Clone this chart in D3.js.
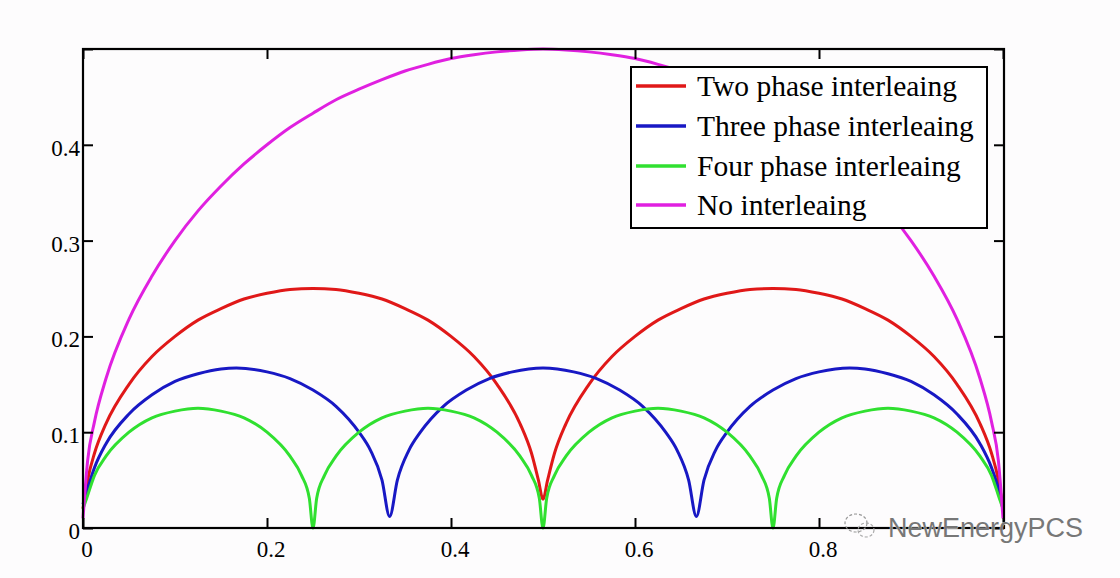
<!DOCTYPE html>
<html><head><meta charset="utf-8">
<script src="https://cdn.jsdelivr.net/npm/d3@7/dist/d3.min.js"></script>
<style>
html,body{margin:0;padding:0;background:#fdfcfd;}
svg{display:block;}
</style></head>
<body>
<svg id="chart" width="1120" height="578"></svg>
<script>
// ---- data ----
const seriesNames = ["Two phase interleaing", "Three phase interleaing", "Four phase interleaing", "No interleaing"];
const seriesColors = ["#e01818", "#1818c4", "#30e030", "#e020e0"];

const twoX = [0,0.005,0.0125,0.025,0.05,0.075,0.1,0.125,0.15,0.175,0.2,0.225,0.25,0.275,0.3,0.325,0.35,0.375,0.4,0.425,0.45,0.475,0.4875,0.495,0.5,
  0.505,0.5125,0.525,0.55,0.575,0.6,0.625,0.65,0.675,0.7,0.725,0.75,0.775,0.8,0.825,0.85,0.875,0.9,0.925,0.95,0.975,0.9875,0.995,1];
const twoY = [0.02,0.050,0.078,0.109,0.150,0.179,0.200,0.217,0.229,0.239,0.245,0.249,0.250,0.249,0.245,0.239,0.229,0.217,0.200,0.179,0.150,0.109,0.078,0.050,0.030,
  0.050,0.078,0.109,0.150,0.179,0.200,0.217,0.229,0.239,0.245,0.249,0.250,0.249,0.245,0.239,0.229,0.217,0.200,0.179,0.150,0.109,0.078,0.050,0.02];

const threeX = [0,0.005,0.0125,0.025,0.05,0.075,0.1,0.125,0.15,0.1667,0.2,0.225,0.25,0.275,0.3,0.3125,0.325,0.3333,
  0.3417,0.3542,0.3667,0.3917,0.4167,0.4417,0.4667,0.5,0.5333,0.5583,0.5833,0.6083,0.6333,0.6458,0.6583,0.6667,
  0.675,0.6875,0.7,0.725,0.75,0.775,0.8,0.8333,0.85,0.875,0.9,0.925,0.95,0.975,0.9875,0.995,1];
const threeY = [0.025,0.041,0.063,0.088,0.119,0.139,0.153,0.161,0.166,0.167,0.163,0.156,0.144,0.127,0.100,0.081,0.050,0.012,
  0.050,0.081,0.100,0.127,0.144,0.156,0.163,0.167,0.163,0.156,0.144,0.127,0.100,0.081,0.050,0.012,
  0.050,0.081,0.100,0.127,0.144,0.156,0.163,0.167,0.166,0.161,0.153,0.139,0.119,0.088,0.063,0.041,0.02];

const fourX = [0,0.004,0.0125,0.025,0.05,0.075,0.1,0.125,0.15,0.175,0.2,0.225,0.2375,0.246,0.25,
  0.254,0.2625,0.275,0.3,0.325,0.35,0.375,0.4,0.425,0.45,0.475,0.4875,0.496,0.5,
  0.504,0.5125,0.525,0.55,0.575,0.6,0.625,0.65,0.675,0.7,0.725,0.7375,0.746,0.75,
  0.754,0.7625,0.775,0.8,0.825,0.85,0.875,0.9,0.925,0.95,0.975,0.9875,0.996,1];
const fourY = [0.02,0.031,0.055,0.075,0.100,0.115,0.122,0.125,0.122,0.115,0.100,0.075,0.055,0.031,0.0,
  0.031,0.055,0.075,0.100,0.115,0.122,0.125,0.122,0.115,0.100,0.075,0.055,0.031,0.0,
  0.031,0.055,0.075,0.100,0.115,0.122,0.125,0.122,0.115,0.100,0.075,0.055,0.031,0.0,
  0.031,0.055,0.075,0.100,0.115,0.122,0.125,0.122,0.115,0.100,0.075,0.055,0.031,0.02];

const noX = [0,0.005,0.0125,0.025,0.05,0.075,0.1,0.125,0.15,0.175,0.2,0.225,0.25,0.275,0.3,0.325,0.35,0.375,0.4,0.425,0.45,0.475,0.5,
  0.525,0.55,0.575,0.6,0.625,0.65,0.675,0.7,0.725,0.75,0.775,0.8,0.825,0.85,0.875,0.9,0.925,0.95,0.975,0.9875,0.995,1];
const noY = [0.01,0.070,0.111,0.156,0.218,0.263,0.300,0.331,0.357,0.380,0.400,0.418,0.433,0.447,0.458,0.468,0.477,0.484,0.490,0.494,0.497,0.499,0.500,
  0.499,0.497,0.494,0.490,0.484,0.477,0.468,0.458,0.447,0.433,0.418,0.400,0.380,0.357,0.331,0.300,0.263,0.218,0.156,0.111,0.070,0.01];

const xTicks = [0, 0.2, 0.4, 0.6, 0.8, 1];
const xTickLabels = ["0", "0.2", "0.4", "0.6", "0.8", ""];
const yTicks = [0, 0.1, 0.2, 0.3, 0.4, 0.5];
const yTickLabels = ["0", "0.1", "0.2", "0.3", "0.4", ""];

// ---- layout ----
const svg = d3.select("#chart");
const L = 83, R = 1003, T = 49, B = 528;
const x = d3.scaleLinear().domain([0, 1]).range([L, R]);
const y = d3.scaleLinear().domain([0, 0.5]).range([B, T]);

svg.append("rect").attr("width", 1120).attr("height", 578).attr("fill", "#fdfcfd");

const seriesData = [
  [twoX, twoY], [threeX, threeY], [fourX, fourY], [noX, noY]
].map(([xs, ys]) => xs.map((v, i) => [v, ys[i]]));

const line = d3.line().x(d => x(d[0])).y(d => y(d[1])).curve(d3.curveMonotoneX);

svg.append("g").selectAll("path").data(seriesData).join("path")
  .attr("d", line)
  .attr("fill", "none")
  .attr("stroke", (d, i) => seriesColors[i])
  .attr("stroke-width", 3)
  .attr("stroke-linejoin", "round");

// ---- frame and axes (ticks inside) ----
const font = "'Liberation Serif', 'Times New Roman', serif";
const axB = svg.append("g").attr("transform", `translate(0,${B})`)
  .call(d3.axisTop(x).tickValues(xTicks).tickFormat("").tickSizeInner(10).tickSizeOuter(0));
const axT = svg.append("g").attr("transform", `translate(0,${T})`)
  .call(d3.axisBottom(x).tickValues(xTicks).tickFormat("").tickSizeInner(10).tickSizeOuter(0));
const axL = svg.append("g").attr("transform", `translate(${L},0)`)
  .call(d3.axisRight(y).tickValues(yTicks).tickFormat("").tickSizeInner(10).tickSizeOuter(0));
const axR = svg.append("g").attr("transform", `translate(${R + 1},0)`)
  .call(d3.axisLeft(y).tickValues(yTicks).tickFormat("").tickSizeInner(10).tickSizeOuter(0));
[axB, axT, axL, axR].forEach(g => {
  g.select(".domain").remove();
  g.selectAll("line").attr("stroke", "#000").attr("stroke-width", 2);
});

svg.append("rect").attr("x", L).attr("y", T).attr("width", R + 1 - L).attr("height", B - T)
  .attr("fill", "none").attr("stroke", "#000").attr("stroke-width", 2.2);

// tick labels
svg.append("g").selectAll("text").data(xTicks).join("text")
  .attr("x", d => x(d) + 4).attr("y", 557)
  .attr("text-anchor", "middle")
  .attr("font-family", font).attr("font-size", 23).attr("fill", "#000")
  .text((d, i) => xTickLabels[i]);

svg.append("g").selectAll("text").data(yTicks).join("text")
  .attr("x", 80).attr("y", d => y(d) + 11)
  .attr("text-anchor", "end")
  .attr("font-family", font).attr("font-size", 23).attr("fill", "#000")
  .text((d, i) => yTickLabels[i]);

// ---- legend ----
const lg = svg.append("g");
lg.append("rect").attr("x", 631).attr("y", 67).attr("width", 356).attr("height", 161)
  .attr("fill", "#ffffff").attr("stroke", "#000").attr("stroke-width", 2);
const rowY = [86, 126, 166, 205];
seriesNames.forEach((name, i) => {
  lg.append("line").attr("x1", 636).attr("x2", 686).attr("y1", rowY[i]).attr("y2", rowY[i])
    .attr("stroke", seriesColors[i]).attr("stroke-width", 3.5);
  lg.append("text").attr("x", 697).attr("y", rowY[i] + 10)
    .attr("font-family", font).attr("font-size", 29.5).attr("fill", "#000")
    .text(name);
});

// ---- watermark ----
const wm = svg.append("g");
wm.append("ellipse").attr("cx", 856).attr("cy", 523).attr("rx", 11).attr("ry", 9)
  .attr("fill", "none").attr("stroke", "#999").attr("stroke-width", 1.2).attr("stroke-dasharray", "3,2");
wm.append("ellipse").attr("cx", 866).attr("cy", 530).attr("rx", 8).attr("ry", 7)
  .attr("fill", "none").attr("stroke", "#aaa").attr("stroke-width", 1.2).attr("stroke-dasharray", "3,2");
wm.append("text").attr("x", 888).attr("y", 537)
  .attr("font-family", "'Liberation Sans', Arial, sans-serif").attr("font-size", 27)
  .attr("fill", "#777").attr("stroke", "#fff").attr("stroke-width", 0.6).attr("paint-order", "stroke")
  .text("NewEnergyPCS");
</script>
</body></html>
